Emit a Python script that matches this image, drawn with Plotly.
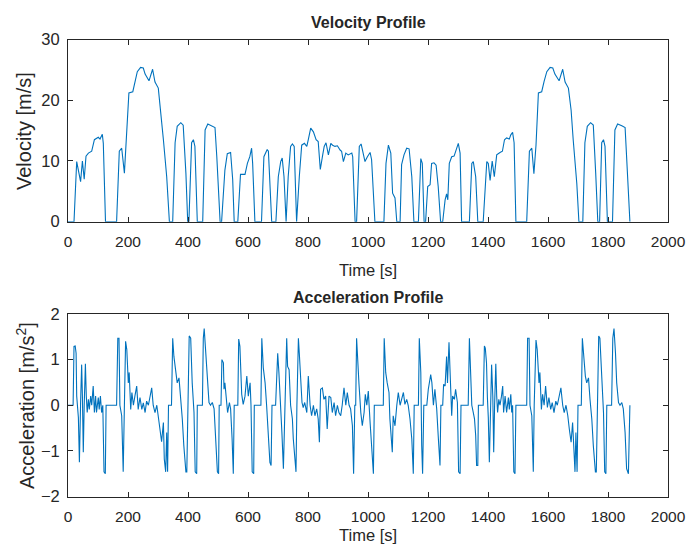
import plotly.graph_objects as go

# Drive-cycle velocity samples: time [s] and speed [m/s]
vel_t = [0, 20, 29, 42, 48, 54, 60, 68, 79, 88, 101, 106.7, 114.4, 117.7, 125,
         162, 171, 179, 188, 196, 203, 216, 223, 231, 242, 251, 257, 270, 282, 290,
         301, 309, 318, 329, 338, 349, 357, 364, 376, 384, 393, 399, 403, 412, 418,
         423, 431, 449, 457, 466, 479, 490, 496, 507, 512, 523, 531, 542, 549, 554,
         566, 575, 590, 598, 606, 612, 615.5, 623, 645, 653, 664, 668, 679, 693, 701,
         709, 714, 720, 727, 734, 742, 748, 754, 762, 771, 779, 788, 796, 801, 809,
         818, 827, 834, 841, 849, 854, 860, 868, 876, 882, 890, 898, 907, 912, 918,
         926, 934, 946, 949, 957, 962, 971, 977, 984, 990, 998, 1007, 1012, 1023,
         1053, 1060, 1068, 1076, 1082, 1090, 1096, 1107, 1112, 1120, 1129, 1137,
         1146, 1153, 1168, 1176, 1181, 1187, 1192, 1199, 1207, 1212, 1220, 1227,
         1234, 1242, 1249, 1257, 1262, 1266, 1271, 1279, 1287, 1296, 1301, 1307,
         1312, 1338, 1346, 1351, 1359, 1366, 1384, 1396, 1401, 1407, 1414, 1421,
         1429, 1440, 1448, 1455, 1462, 1471, 1476, 1482, 1487, 1493, 1529, 1538,
         1546, 1553, 1560, 1568, 1579, 1587, 1596, 1607, 1616, 1623, 1637, 1649,
         1657, 1668, 1677, 1684, 1696, 1703, 1716, 1723, 1731, 1742, 1751, 1759,
         1766, 1772, 1779, 1785, 1790, 1798, 1815, 1823, 1832, 1846, 1857, 1862, 1873]
vel_v = [0, 0, 9.9, 6.6, 10.0, 7.0, 10.8, 11.3, 11.6, 13.5, 13.9, 13.6, 14.4, 12.9, 0,
         0, 11.6, 12.1, 8.0, 15.1, 21.2, 21.4, 23.1, 24.7, 25.4, 25.3, 24.3, 23.2, 25.1, 23.0,
         22.0, 18.4, 13.5, 7.4, 0, 0, 13.0, 15.7, 16.3, 15.9, 8.0, 0, 0, 13.0, 13.5,
         12.4, 0, 0, 15.1, 16.1, 15.8, 15.5, 10.7, 0, 0, 8.5, 11.2, 11.4, 6.9, 0,
         0, 7.8, 7.8, 9.6, 10.7, 12.1, 9.6, 0, 0, 10.7, 11.9, 11.6, 0, 0, 7.4,
         9.9, 10.5, 7.4, 0, 7.4, 12.4, 12.8, 12.4, 0, 7.4, 12.6, 12.9, 12.4, 13.5, 15.4,
         14.8, 13.5, 13.2, 8.6, 11.0, 12.4, 13.0, 11.0, 12.9, 12.6, 12.4, 12.5, 11.8, 11.6, 9.9,
         11.3, 11.0, 11.3, 10.7, 0, 0, 12.4, 12.8, 11.3, 9.9, 10.7, 11.4, 10.2, 0,
         0, 9.6, 12.6, 11.3, 4.7, 3.9, 0, 0, 9.4, 11.0, 12.1, 12.0,
         7.4, 0, 0, 10.4, 9.6, 0, 0, 5.8, 6.1, 9.6, 9.7, 9.3,
         5.8, 0, 0, 3.6, 4.6, 3.6, 9.6, 10.7, 10.8, 12.1, 12.9, 11.3,
         0, 0, 9.6, 9.9, 7.4, 0, 0, 9.9, 9.6, 6.8, 10.0, 7.4,
         11.0, 11.4, 11.6, 13.5, 13.8, 13.6, 14.3, 14.7, 13.0, 0, 0, 11.6,
         12.1, 7.9, 12.6, 21.2, 21.4, 23.1, 24.7, 25.4, 25.3, 24.3, 23.2, 25.1,
         23.0, 22.0, 18.4, 13.5, 6.3, 0, 0, 13.0, 15.7, 16.3, 15.9, 8.0,
         0, 0, 13.0, 13.5, 12.4, 0, 0, 15.1, 16.1, 15.8, 15.5, 10.7, 0]

# Acceleration samples: time [s] and acceleration [m/s^2]
acc_t = [0, 17, 20, 24, 27, 29, 34.6, 38, 42, 45.5, 48, 51, 54, 58, 61, 64, 68, 71, 75.6, 79,
         84, 88, 92, 95, 101, 104, 108, 112, 116, 120, 124.4, 127,
         162, 166, 170, 173, 179, 184, 188, 192, 196, 201, 204, 209, 213, 218, 223, 229, 234,
         240, 246, 251, 257, 262, 268, 273, 279, 284, 290, 296, 301, 306.7, 312, 318, 321,
         325.6, 329, 332, 335,
         345, 349, 353, 360, 364, 370, 376, 381, 386, 393, 396, 400,
         404, 409, 414, 420, 424, 429, 431,
         448, 451, 454, 459, 464, 470, 475, 481, 487, 492, 498, 502, 504,
         510, 513, 518, 520, 523, 529, 532, 538, 542, 547, 551, 554,
         566, 569, 573, 579, 584, 590, 596, 601, 607, 610, 614, 619, 621,
         643, 646, 651, 657, 662, 668, 673, 677, 680,
         692, 696, 699, 703, 707, 710, 713, 718, 721, 726, 729, 732, 737, 742, 748, 751, 756,
         760, 763,
         768, 771, 776, 780, 784, 789, 796, 801, 807, 812, 818, 823, 829, 834, 838, 842, 848,
         853, 859, 864, 870, 876, 881, 887, 892, 898, 903, 909, 914, 920, 926, 931, 937, 942,
         948, 952, 956,
         959, 962, 966, 970, 976, 981, 987, 991, 996, 1001, 1007, 1012, 1018, 1021,
         1051, 1054, 1059, 1064, 1070, 1073, 1078, 1081, 1084, 1090, 1096, 1101, 1107, 1113,
         1118, 1123, 1129, 1134, 1140, 1146, 1151, 1154,
         1168, 1171, 1176, 1179, 1182, 1186, 1196, 1201, 1209, 1213, 1218, 1223, 1229, 1234,
         1240, 1243,
         1249, 1252, 1257, 1262, 1265, 1270, 1273, 1279, 1282, 1288, 1292, 1298, 1302, 1307, 1310,
         1334, 1338, 1341, 1346, 1351, 1355, 1359, 1362, 1366, 1368,
         1384, 1388, 1391, 1395, 1398, 1401, 1404.5, 1409, 1412, 1416, 1419, 1422, 1426, 1429,
         1432, 1436, 1440, 1445, 1449, 1452, 1457, 1462, 1468, 1471, 1476, 1479, 1482, 1486,
         1490, 1493,
         1529, 1532, 1537, 1540, 1546, 1551, 1554, 1560, 1564, 1570, 1573, 1578, 1582, 1587,
         1592, 1598, 1603, 1609, 1614, 1620, 1626, 1631, 1638, 1643, 1649, 1654, 1660, 1666,
         1671, 1677, 1682, 1687, 1690, 1693, 1697, 1700,
         1711, 1714.5, 1719, 1724.5, 1729, 1735, 1740, 1746, 1751, 1758, 1761, 1764,
         1769, 1773, 1779, 1785, 1789, 1793, 1796,
         1812, 1816, 1820, 1825, 1829, 1835, 1840, 1846, 1851, 1857, 1862, 1868, 1873]
acc_v = [0, 0, 1.29, 1.3, 1.14, 0.2, -0.27, -1.25, 0.06, 0.89, 0.2, -1.03, 0, 0.91, 0.2, -0.16, 0.13, -0.09, 0.2, 0,
         0.42, -0.16, 0.2, -0.16, 0.17, -0.09, 0.2, -0.16, 0, -1.46, -1.5, 0,
         0, 1.47, 1.47, 0, -0.23, -1.46, 0, 1.4, 1.22, 0.49, 0.72, -0.09, 0.28, 0, 0.2, 0.42, -0.09,
         0.17, -0.09, 0.05, -0.16, 0.09, 0, 0.2, 0.38, 0, -0.16, 0, -0.23, -0.52, -0.8, -0.38, -1.18,
         -1.46, -0.6, -1.46, 0,
         0, 1.47, 1.07, 0.64, 0.49, 0.6, 0.13, -0.3, -0.88, -1.46, -1.46, 0,
         1.52, 1.47, 0.49, -0.16, -1.46, -1.5, 0,
         0, 1.47, 1.68, 1.14, 0.49, 0.06, 0, 0.06, -0.08, -0.6, -1.46, -1.5, 0,
         0, 1.0, 0.93, 0.35, 0.49, 0, -0.16, 0.06, -0.08, -0.74, -1.5, 0,
         0, 1.45, 1.29, 0.24, 0.02, 0.2, 0.64, 0.2, 0.49, 0, -1.46, -1.5, 0,
         0, 1.47, 0.82, 0.49, 0, -0.6, -1.25, -1.32, 0,
         0, 0.82, 1.14, 0.72, 0.28, -0.08, -0.6, -1.39, -0.74, 0.85, 1.47, 0.85, 0.78, 0, -0.3, -0.74, -1.25,
         -1.46, 0,
         1.47, 1.14, 0.49, 0.06, -0.05, 0.06, -0.16, 0.64, 0, -0.23, 0, -0.23, -0.08, -0.3, -0.81, 0.35, 0.38,
         0.13, 0.2, -0.52, 0.2, 0.17, -0.16, 0.06, -0.23, 0, -0.16, -0.23, 0, 0.38, 0, 0.28, 0, -0.08,
         -0.45, -1.5, 0,
         0, 1.47, 0.85, 0.46, -0.16, -0.45, -0.16, 0.24, 0, 0.31, -0.38, -0.96, -1.5, 0,
         0, 1.47, 0.72, 0.49, 0.28, -0.3, -0.81, -1.03, -0.23, -0.45, 0, 0.28, 0, 0.13,
         0.28, 0.02, 0.13, 0, -0.3, -0.74, -1.5, 0,
         0, 1.47, 0.72, -0.88, -1.5, 0, 0, 0.35, 0.67, 0.49, 0, 0.35, -0.08, -0.67,
         -1.32, 0,
         0, 0.46, 0.42, 1.07, 0.49, 1.38, 0.72, -0.23, 0.2, 0.13, 0.35, 0.06, -1.46, -1.5, 0,
         0, 1.47, 0.85, 0, -0.16, -0.3, -0.67, -1.32, -1.32, 0,
         0, 1.3, 1.25, 0.93, 0.17, -0.27, -1.25, 0.06, 0.89, 0.2, -1.03, 0, 0.91, 0.2,
         -0.16, 0.13, 0, 0.2, 0.42, -0.16, 0.2, -0.16, 0.17, -0.09, 0.24, -0.16, 0, -1.46,
         -1.5, 0,
         0, 1.47, 1.47, 0, -0.23, -1.46, 0, 1.43, 1.22, 0.49, 0.72, -0.09, 0.24, 0,
         0.42, -0.05, 0.17, -0.09, 0.06, -0.16, 0.09, 0, 0.2, 0.38, 0, -0.16, 0, -0.23,
         -0.52, -0.81, -0.38, -1.18, -1.46, -0.6, -1.46, 0,
         0, 1.47, 1.07, 0.64, 0.49, 0.6, 0.13, -0.3, -0.88, -1.46, -1.46, 0,
         1.52, 1.47, 0.49, -0.16, -1.46, -1.5, 0,
         0, 1.47, 1.68, 1.14, 0.49, 0.06, 0, 0.06, -0.08, -0.6, -1.39, -1.5, 0]

x_ticks = [0, 200, 400, 600, 800, 1000, 1200, 1400, 1600, 1800, 2000]
vel_ticks = [0, 10, 20, 30]
acc_ticks = [-2, -1, 0, 1, 2]

LINE = "#0072BD"
INK = "#262626"
FONT = "Liberation Sans"

fig = go.Figure()
fig.add_trace(go.Scatter(x=vel_t, y=vel_v, mode="lines",
                         line=dict(color=LINE, width=1.1), xaxis="x", yaxis="y",
                         showlegend=False))
fig.add_trace(go.Scatter(x=acc_t, y=acc_v, mode="lines",
                         line=dict(color=LINE, width=1.1), xaxis="x2", yaxis="y2",
                         showlegend=False))

axis_common = dict(showline=True, linecolor=INK, linewidth=1, mirror="allticks",
                   ticks="inside", ticklen=5, tickcolor=INK, tickwidth=1,
                   showgrid=False, zeroline=False, automargin=False)
x_font = dict(family=FONT, size=15.5, color=INK)
y_font = dict(family=FONT, size=16.5, color=INK)

H = 554.0
top_dom = [(H - 221.7) / H, (H - 39.5) / H]
bot_dom = [(H - 496.5) / H, (H - 314.0) / H]

fig.update_layout(
    width=689, height=554,
    margin=dict(l=68, r=21, t=0, b=0),
    paper_bgcolor="white", plot_bgcolor="white",
    xaxis=dict(axis_common, range=[0, 2000], tickvals=x_ticks, anchor="y",
               tickfont=x_font, ticklabelstandoff=6),
    yaxis=dict(axis_common, range=[0, 30], tickvals=vel_ticks, domain=top_dom,
               anchor="x", tickfont=y_font, ticklabelstandoff=4),
    xaxis2=dict(axis_common, range=[0, 2000], tickvals=x_ticks, anchor="y2",
                tickfont=x_font, ticklabelstandoff=6),
    yaxis2=dict(axis_common, range=[-2, 2], tickvals=acc_ticks, domain=bot_dom,
                anchor="x2", tickfont=y_font, ticklabelstandoff=4),
)

def px_y(p):
    return (H - p) / H

def px_x(p):
    return (p - 68) / 600.0

labels = [
    dict(text="<b>Velocity Profile</b>", x=0.5, y=px_y(22), size=16),
    dict(text="Time [s]", x=0.5, y=px_y(270), size=16.5),
    dict(text="<b>Acceleration Profile</b>", x=0.5, y=px_y(297), size=16),
    dict(text="Time [s]", x=0.5, y=px_y(535), size=16.5),
]
for lab in labels:
    fig.add_annotation(text=lab["text"], x=lab["x"], y=lab["y"], xref="paper",
                       yref="paper", showarrow=False, xanchor="center",
                       yanchor="middle",
                       font=dict(family=FONT, size=lab["size"], color=INK))

fig.add_annotation(text="Velocity [m/s]", x=px_x(24), y=px_y(131), xref="paper",
                   yref="paper", showarrow=False, textangle=-90,
                   xanchor="center", yanchor="middle",
                   font=dict(family=FONT, size=20, color=INK))
fig.add_annotation(text="Acceleration [m/s<sup>2</sup>]", x=px_x(25), y=px_y(406),
                   xref="paper", yref="paper", showarrow=False, textangle=-90,
                   xanchor="center", yanchor="middle",
                   font=dict(family=FONT, size=20, color=INK))

fig.write_html("out.html")
